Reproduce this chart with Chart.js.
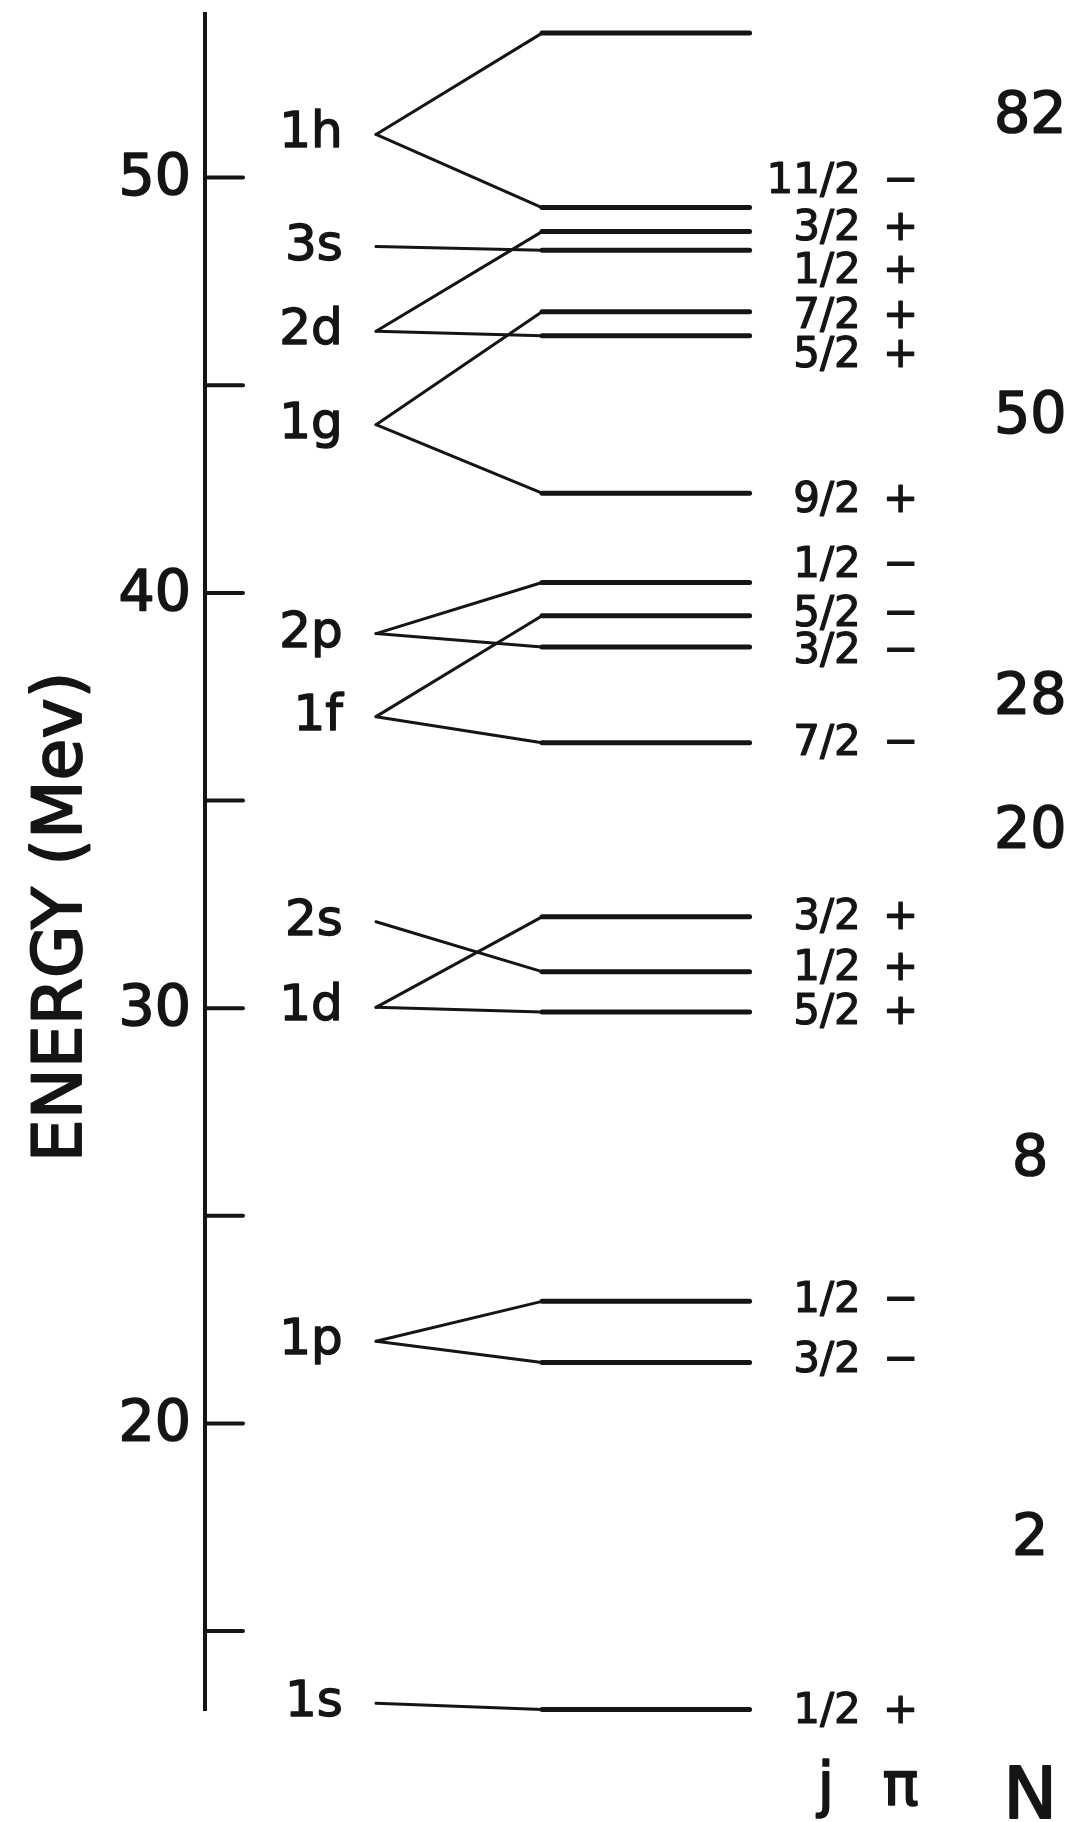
<!DOCTYPE html>
<html>
<head>
<meta charset="utf-8">
<script src="https://cdn.jsdelivr.net/npm/chart.js@4.4.1/dist/chart.umd.min.js"></script>
<style>
  html, body { margin: 0; padding: 0; background: #fff; }
  #wrap { width: 1075px; height: 1822px; }
</style>
</head>
<body>
<div id="wrap"><canvas id="levels"></canvas></div>
<script>
// oscillator shells (left column), energies in MeV
var shellNames  = ['1h', '3s', '2d', '1g', '2p', '1f', '2s', '1d', '1p', '1s'];
var shellEnergy = [51.04, 48.34, 46.30, 44.05, 39.02, 37.02, 32.08, 30.02, 21.98, 13.26];

// spin-orbit split levels (right column)
var levelShell  = ['1h', '1h', '2d', '3s', '1g', '2d', '1g', '2p', '1f', '2p', '1f', '1d', '2s', '1d', '1p', '1p', '1s'];
var levelEnergy = [53.48, 49.28, 48.70, 48.25, 46.77, 46.19, 42.40, 40.25, 39.45, 38.70, 36.39, 32.20, 30.88, 29.91, 22.94, 21.47, 13.11];
var levelJ      = ['', '11/2', '3/2', '1/2', '7/2', '5/2', '9/2', '1/2', '5/2', '3/2', '7/2', '3/2', '1/2', '5/2', '1/2', '3/2', '1/2'];
var levelParity = ['', '−', '+', '+', '+', '+', '+', '−', '−', '−', '−', '+', '+', '+', '−', '−', '+'];
// where each j/pi label is written (MeV)
var labelEnergy = [null, 49.90, 48.75, 47.72, 46.63, 45.71, 42.22, 40.65, 39.46, 38.58, 36.37, 32.18, 30.94, 29.88, 22.95, 21.51, 13.06];

// magic numbers
var magicN      = ['82', '50', '28', '20', '8', '2'];
var magicEnergy = [51.42, 44.20, 37.43, 34.22, 26.32, 17.20];

var yTickStep = 5;
var ink = '#151515';
var font = '"DejaVu Sans", "Noto Sans", sans-serif';

// columns on the hidden x scale
var colApex = 0, colSplit = 1, colEnd = 2.25;
var colShellText = -0.2, colJ = 2.92, colSign = 3.16, colN = 3.94, colJHead = 2.71;

var datasets = [];
levelEnergy.forEach(function (e, i) {
  var s = shellEnergy[shellNames.indexOf(levelShell[i])];
  // thin connector from shell to split level
  datasets.push({
    data: [{ x: colApex, y: s }, { x: colSplit, y: e }],
    borderColor: ink, borderWidth: 3, pointRadius: 0, borderCapStyle: 'round', clip: false
  });
  // heavy level bar
  datasets.push({
    data: [{ x: colSplit, y: e }, { x: colEnd, y: e }],
    borderColor: ink, borderWidth: 5, pointRadius: 0, borderCapStyle: 'round', clip: false
  });
});

// lettering-guide look: fill plus a light outline
function letter(ctx, text, x, y, size) {
  ctx.font = size + 'px ' + font;
  ctx.lineWidth = size * 0.028;
  ctx.fillText(text, x, y);
  ctx.strokeText(text, x, y);
}

var decorations = {
  id: 'decorations',
  afterDraw: function (chart) {
    var ctx = chart.ctx, xs = chart.scales.x, ys = chart.scales.y, area = chart.chartArea;
    ctx.save();
    ctx.fillStyle = ink;
    ctx.strokeStyle = ink;
    ctx.lineJoin = 'round';

    // tick marks point inward, labels every 10 MeV
    ctx.lineWidth = 4;
    ctx.lineCap = 'round';
    ys.ticks.forEach(function (t) {
      var y = ys.getPixelForValue(t.value);
      ctx.beginPath();
      ctx.moveTo(area.left, y);
      ctx.lineTo(area.left + 38, y);
      ctx.stroke();
    });
    ctx.textAlign = 'right';
    ctx.textBaseline = 'middle';
    ys.ticks.forEach(function (t) {
      if (t.value % 10 !== 0) return;
      letter(ctx, String(t.value), area.left - 14, ys.getPixelForValue(t.value) + 3, 57);
    });

    // shell names
    shellNames.forEach(function (n, i) {
      letter(ctx, n, xs.getPixelForValue(colShellText), ys.getPixelForValue(shellEnergy[i]), 50);
    });

    // j and parity
    levelJ.forEach(function (j, i) {
      if (!j) return;
      var y = ys.getPixelForValue(labelEnergy[i]);
      ctx.textAlign = 'right';
      letter(ctx, j, xs.getPixelForValue(colJ), y, 42);
      ctx.textAlign = 'center';
      letter(ctx, levelParity[i], xs.getPixelForValue(colSign), y, 42);
    });

    // magic numbers
    ctx.textAlign = 'center';
    magicN.forEach(function (n, i) {
      letter(ctx, n, xs.getPixelForValue(colN), ys.getPixelForValue(magicEnergy[i]), 57);
    });

    // column heads
    ctx.textBaseline = 'alphabetic';
    letter(ctx, 'j', xs.getPixelForValue(colJHead), area.bottom + 95, 60);
    letter(ctx, 'π', xs.getPixelForValue(colSign), area.bottom + 95, 60);
    letter(ctx, 'N', xs.getPixelForValue(colN), area.bottom + 108, 72);

    // axis title
    ctx.translate(81, (area.top + area.bottom) / 2 + 55);
    ctx.rotate(-Math.PI / 2);
    letter(ctx, 'ENERGY (Mev)', 0, 0, 68);
    ctx.restore();
  }
};

new Chart(document.getElementById('levels'), {
  type: 'line',
  data: { datasets: datasets },
  options: {
    responsive: true,
    maintainAspectRatio: false,
    animation: false,
    layout: { padding: { top: 14, bottom: 112, left: 0, right: 0 } },
    plugins: { legend: { display: false }, tooltip: { enabled: false } },
    scales: {
      x: { type: 'linear', display: false, min: -1.03, max: 4.21 },
      y: {
        type: 'linear',
        min: 13.1,
        max: 53.94,
        afterFit: function (scale) {
          scale.width = 205;
          scale.paddingTop = 0;
          scale.paddingBottom = 0;
        },
        grid: { display: false, drawTicks: false },
        border: { display: true, color: ink, width: 4 },
        ticks: { display: false, stepSize: yTickStep, includeBounds: false }
      }
    }
  },
  plugins: [decorations]
});
</script>
</body>
</html>
